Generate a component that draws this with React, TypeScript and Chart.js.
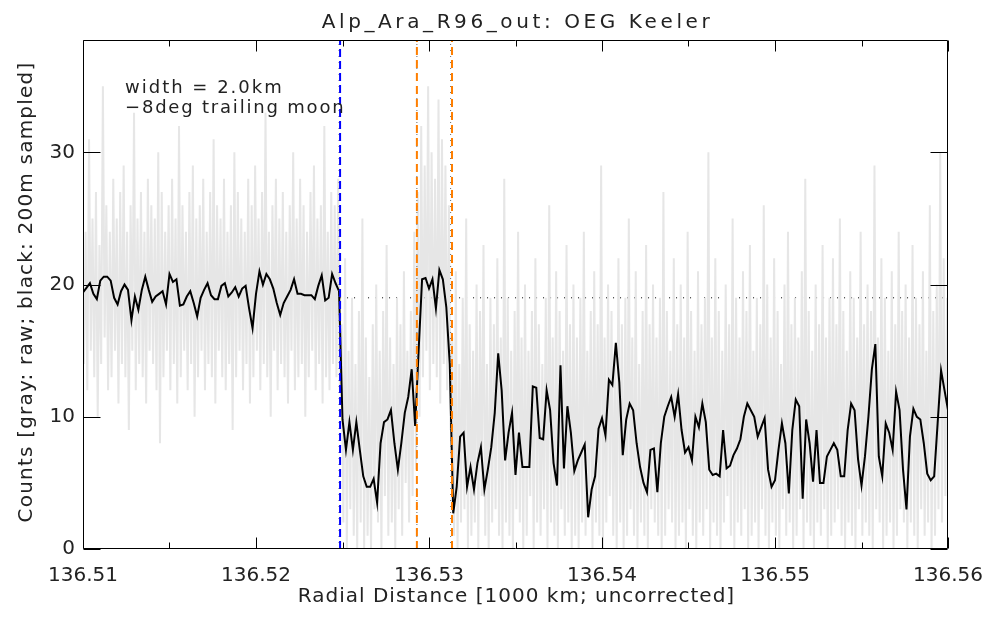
import React, { useEffect, useRef } from "react";
import { Chart, registerables } from "chart.js";

Chart.register(...registerables);

// ---------------- data ----------------
const X_START = 136.51; // first sample [1000 km]
const SAMPLE_STEP = 0.0002; // 200 m sampling
const X_MIN = 136.51;
const X_MAX = 136.56;
const Y_MIN = 0;
const Y_MAX = 38.5;

const xTicks = [136.51, 136.52, 136.53, 136.54, 136.55, 136.56];
const xMinorTicks = [136.515, 136.525, 136.535, 136.545, 136.555];
const yTicks = [0, 10, 20, 30];

const titleText = "Alp_Ara_R96_out: OEG Keeler";
const xLabel = "Radial Distance [1000 km; uncorrected]";
const yLabel = "Counts [gray: raw; black: 200m sampled]";
const noteLines = ["width = 2.0km", "\u22128deg trailing moon"];

// black: 200 m sampled counts
const sampled = [
  19.4, 19.75, 20.1, 19.3, 18.9, 20.3, 20.6, 20.6, 20.3, 19.0,
  18.5, 19.5, 20.0, 19.6, 17.3, 19.1, 18.1, 19.6, 20.6, 19.6,
  18.7, 19.1, 19.3, 19.5, 18.5, 20.8, 20.2, 20.4, 18.4, 18.5,
  19.1, 19.5, 18.6, 17.6, 19.0, 19.6, 20.1, 19.2, 18.9, 18.9,
  19.9, 20.1, 19.1, 19.4, 19.8, 19.1, 19.7, 19.9, 18.2, 16.7,
  19.3, 21.0, 20.0, 20.8, 20.4, 19.7, 18.6, 17.7, 18.6, 19.1,
  19.6, 20.4, 19.3, 19.3, 19.2, 19.2, 19.2, 18.9, 19.9, 20.7,
  18.8, 19.0, 20.8, 20.1, 19.5,
  9.8, 7.5, 9.6, 7.5, 9.6, 7.5, 5.5, 4.7, 4.7, 5.3,
  3.5, 8.0, 9.6, 9.8, 10.5, 8.0, 6.0, 8.0, 10.3, 11.5,
  13.6, 9.3,
  15.0, 20.4, 20.5, 19.7, 20.4, 18.2, 21.1, 20.4, 18.3, 14.0,
  2.7, 4.7, 8.5, 8.8, 4.7, 6.2, 4.5, 6.5, 7.7,
  4.5, 6.0, 7.7, 10.3, 14.8, 12.0, 6.7, 8.8, 10.3, 5.6,
  8.8, 6.2, 6.2, 6.2, 12.3, 12.2, 8.4, 8.3, 12.0, 10.5,
  6.5, 4.8, 13.9, 6.1, 10.8, 8.8, 5.9, 6.7, 7.3, 7.9,
  2.4, 4.5, 5.5, 9.1, 9.9, 8.6, 12.8, 12.4, 15.6, 12.6,
  7.1, 9.8, 11.0,
  10.5, 8.0, 6.2, 5.0, 4.3, 7.5, 7.6, 4.3, 8.0, 10.0,
  10.8, 11.5, 10.0, 11.7, 9.0, 7.3, 7.7, 6.7, 10.0, 9.2,
  11.0, 9.6, 6.0, 5.6, 5.7, 5.5, 9.0, 6.1, 6.3, 7.1,
  7.6, 8.3, 10.0, 11.0, 10.5, 10.0, 8.5, 9.2, 9.9, 6.0,
  4.7, 5.2, 7.5, 9.5, 8.0, 4.2,
  9.0, 11.3, 10.8, 3.8, 9.8, 8.0, 5.1, 9.0, 5.0, 5.0,
  7.0, 7.5, 8.0, 7.5, 5.5, 5.5, 9.0, 11.0, 10.5, 6.8,
  4.8, 7.0, 10.0, 13.6, 15.5, 7.0, 5.5, 9.5, 8.8, 7.5,
  11.9, 10.5, 6.0, 3.0, 8.5, 10.6, 10.0, 9.8, 8.0, 5.7,
  5.2, 5.5, 9.5, 13.5, 12.0, 10.5,
];

// gray: raw counts, high and low reading within each 200 m bin
const rawHigh = [
  26, 24, 31, 25, 27, 23, 35, 26, 24, 28,
  25, 27, 29, 24, 26, 33, 25, 27, 24, 28,
  26, 25, 30, 27, 24, 26, 28, 25, 32, 26,
  24, 27, 29, 25, 26, 28, 24, 27, 31, 26,
  25, 28, 24, 26, 30, 27, 25, 24, 28, 26,
  29, 25, 27, 33, 24, 26, 28, 25, 27, 24,
  26, 30, 25, 28, 26, 24, 27, 29, 25, 26,
  32, 24, 27, 26, 28,
  17, 22, 15, 19, 14, 18, 25, 16, 13, 17, 20, 15, 18, 23, 16, 14, 19, 17, 21, 15, 18, 24,
  27, 32, 29, 35, 30, 28, 34, 31, 29, 26,
  16, 21, 14, 19, 25, 17, 15, 20, 18, 23, 14, 19,
  17, 22, 16, 28, 19, 15, 18, 24, 16, 20, 15, 18,
  22, 17, 14, 19, 26, 16, 21, 18, 15, 23, 17, 20,
  16, 19, 24, 15, 18, 21, 17, 29, 16, 20, 18, 15,
  22, 17, 19, 25, 16, 21, 14, 18, 23, 17, 20, 16,
  19, 27, 18, 15, 22, 17, 20, 16, 24, 18, 15, 21,
  17, 19, 30, 16, 22, 18, 15, 20, 17, 25, 19, 16,
  21, 18, 23, 15, 19, 17, 26, 20, 16, 22, 18, 14,
  20, 24, 17, 19, 16, 21, 28, 18, 15, 20, 17, 23,
  16, 19, 22, 17, 25, 18, 15, 21, 19, 16, 24, 17,
  20, 18, 29, 16, 22, 19, 15, 21, 17, 24, 18, 20,
  16, 23, 19, 17, 21, 15, 26, 18, 20, 30, 22, 19,
];
const rawLow = [
  14, 12, 15, 13, 10, 14, 16, 12, 13, 15,
  11, 14, 13, 9, 15, 12, 14, 13, 11, 15,
  14, 12, 8, 13, 15, 12, 14, 11, 13, 15,
  12, 14, 10, 13, 15, 12, 14, 13, 11, 15,
  13, 12, 14, 9, 13, 15, 12, 14, 11, 13,
  15, 12, 14, 13, 10, 15, 12, 14, 13, 11,
  15, 12, 13, 14, 10, 13, 15, 12, 14, 11,
  13, 12, 14, 13, 12,
  2, 0, 3, 1, 0, 2, 0, 1, 0, 3, 2, 0, 4, 1, 2, 0, 3, 1, 5, 2, 4, 6,
  10, 13, 15, 12, 14, 13, 11, 14, 12, 9,
  1, 0, 2, 3, 0, 1, 2, 0, 4, 1, 0, 2,
  3, 1, 0, 2, 1, 0, 3, 2, 0, 1, 4, 0,
  2, 1, 3, 0, 2, 1, 0, 3, 1, 2, 0, 1,
  0, 2, 1, 3, 0, 2, 1, 0, 2, 4, 1, 0,
  2, 0, 1, 3, 1, 0, 2, 1, 0, 3, 2, 1,
  0, 1, 3, 2, 0, 1, 2, 0, 3, 1, 0, 2,
  1, 3, 0, 2, 1, 0, 2, 4, 1, 0, 2, 1,
  3, 0, 1, 2, 0, 3, 1, 0, 2, 1, 0, 3,
  1, 2, 0, 1, 3, 0, 2, 1, 0, 2, 1, 3,
  0, 1, 2, 3, 1, 0, 2, 1, 0, 3, 1, 2,
  1, 0, 3, 2, 0, 1, 2, 0, 1, 3, 2, 0,
  2, 1, 0, 3, 1, 2, 0, 1, 3, 2, 4, 3,
];

const moonEdge = 136.52486; // blue dashed
const gapEdges = [136.5293, 136.53133]; // orange dashed
const guideLines = [136.5248, 136.5293, 136.53125]; // thin dotted
const baselineLevel = 19; // dotted horizontal level
const baselineStart = 136.52486;

// ---------------- styling ----------------
const FONT_FAMILY = '"DejaVu Sans", sans-serif';
const TEXT_COLOR = "#222";

const vline = (x: number) => [
  { x, y: Y_MIN },
  { x, y: Y_MAX },
];

const idlPlugin = {
  id: "idlFrame",
  afterDatasetsDraw(chart: any) {
    const { ctx, chartArea: a, scales } = chart;
    const xs = scales.x;
    const ys = scales.y;
    const L = Math.round(a.left) + 0.5;
    const R = Math.round(a.right) - 0.5;
    const T = Math.round(a.top) + 0.5;
    const B = Math.round(a.bottom) - 0.5;
    ctx.save();
    ctx.strokeStyle = "#000";
    ctx.lineWidth = 1;
    ctx.setLineDash([]);
    ctx.beginPath();
    ctx.rect(L, T, R - L, B - T);
    for (const v of xTicks) {
      const px = Math.round(xs.getPixelForValue(v)) + 0.5;
      ctx.moveTo(px, B);
      ctx.lineTo(px, B - 11);
      ctx.moveTo(px, T);
      ctx.lineTo(px, T + 11);
    }
    for (const v of xMinorTicks) {
      const px = Math.round(xs.getPixelForValue(v)) + 0.5;
      ctx.moveTo(px, B);
      ctx.lineTo(px, B - 6);
      ctx.moveTo(px, T);
      ctx.lineTo(px, T + 6);
    }
    for (const v of yTicks) {
      const py = Math.round(ys.getPixelForValue(v)) + 0.5;
      ctx.moveTo(L, py);
      ctx.lineTo(L + 17, py);
      ctx.moveTo(R, py);
      ctx.lineTo(R - 17, py);
    }
    ctx.stroke();
    ctx.restore();
  },
  afterDraw(chart: any) {
    const { ctx, chartArea: a } = chart;
    const cx = (a.left + a.right) / 2;
    ctx.save();
    ctx.fillStyle = TEXT_COLOR;
    ctx.textBaseline = "alphabetic";
    // title
    ctx.font = `20px ${FONT_FAMILY}`;
    (ctx as any).letterSpacing = "3.6px";
    ctx.textAlign = "center";
    ctx.fillText(titleText, cx + 2, 28);
    // x label
    (ctx as any).letterSpacing = "1px";
    ctx.fillText(xLabel, cx + 1, 602);
    // y label
    ctx.save();
    ctx.translate(31.5, 292);
    ctx.rotate(-Math.PI / 2);
    (ctx as any).letterSpacing = "1.2px";
    ctx.fillText(yLabel, 0, 0);
    ctx.restore();
    // notes
    ctx.font = `18px ${FONT_FAMILY}`;
    (ctx as any).letterSpacing = "2px";
    ctx.textAlign = "left";
    ctx.fillText(noteLines[0], a.left + 42, 93);
    (ctx as any).letterSpacing = "1.8px";
    ctx.fillText(noteLines[1], a.left + 42, 113);
    ctx.restore();
  },
};

export default function App() {
  const ref = useRef<HTMLCanvasElement>(null);

  useEffect(() => {
    const canvas = ref.current;
    if (!canvas) return;

    const sampledPts = sampled.map((v, i) => ({ x: X_START + i * SAMPLE_STEP, y: v }));
    const rawPts: { x: number; y: number }[] = [];
    rawHigh.forEach((hi, i) => {
      const xc = X_START + i * SAMPLE_STEP;
      rawPts.push({ x: xc - SAMPLE_STEP / 4, y: hi });
      rawPts.push({ x: xc + SAMPLE_STEP / 4, y: rawLow[i] });
    });

    const common = { pointRadius: 0, pointHoverRadius: 0, tension: 0, fill: false };

    const chart = new Chart(canvas, {
      type: "line",
      data: {
        datasets: [
          {
            ...common,
            label: "moon edge",
            data: vline(moonEdge),
            borderColor: "#0000ff",
            borderWidth: 2,
            borderDash: [8, 4],
            order: 0,
          },
          ...gapEdges.map((g, k) => ({
            ...common,
            label: "gap edge " + k,
            data: vline(g),
            borderColor: "#ff7f00",
            borderWidth: 2,
            borderDash: [8, 5],
            order: 0,
          })),
          ...guideLines.map((g, k) => ({
            ...common,
            label: "guide " + k,
            data: vline(g),
            borderColor: "#666",
            borderWidth: 1,
            borderDash: [1, 5],
            order: 1,
          })),
          {
            ...common,
            label: "200m sampled",
            data: sampledPts,
            borderColor: "#000",
            borderWidth: 2,
            order: 2,
          },
          {
            ...common,
            label: "raw",
            data: rawPts,
            borderColor: "#e6e6e6",
            borderWidth: 2,
            order: 3,
          },
          {
            ...common,
            label: "level",
            data: [
              { x: baselineStart, y: baselineLevel },
              { x: X_MAX, y: baselineLevel },
            ],
            borderColor: "#000",
            borderWidth: 1,
            borderDash: [1, 6],
            order: 4,
          },
        ],
      },
      options: {
        animation: false,
        responsive: false,
        devicePixelRatio: 1,
        events: [],
        layout: { padding: { top: 40, right: 39, left: 0, bottom: 0 } },
        plugins: {
          legend: { display: false },
          tooltip: { enabled: false },
          title: { display: false },
        },
        scales: {
          x: {
            type: "linear",
            min: X_MIN,
            max: X_MAX,
            grid: { display: false, drawTicks: false },
            border: { display: false },
            afterBuildTicks: (s: any) => {
              s.ticks = xTicks.map((v) => ({ value: v }));
            },
            afterFit: (s: any) => {
              s.height = 70;
              s.paddingLeft = 0;
              s.paddingRight = 0;
            },
            ticks: {
              autoSkip: false,
              maxRotation: 0,
              padding: 15,
              color: TEXT_COLOR,
              font: { family: FONT_FAMILY, size: 20 },
              callback: (v: any) => Number(v).toFixed(2),
            },
          },
          y: {
            type: "linear",
            min: Y_MIN,
            max: Y_MAX,
            grid: { display: false, drawTicks: false },
            border: { display: false },
            afterBuildTicks: (s: any) => {
              s.ticks = yTicks.map((v) => ({ value: v }));
            },
            afterFit: (s: any) => {
              s.width = 83;
              s.paddingTop = 0;
              s.paddingBottom = 0;
            },
            ticks: {
              padding: 8,
              color: TEXT_COLOR,
              font: { family: FONT_FAMILY, size: 20 },
              callback: (v: any) => String(v),
            },
          },
        },
      },
      plugins: [idlPlugin],
    });

    return () => chart.destroy();
  }, []);

  return (
    <div style={{ position: "absolute", left: 0, top: 0, width: 987, height: 619, background: "#fff" }}>
      <canvas ref={ref} width={987} height={619} style={{ display: "block", width: 987, height: 619 }} />
    </div>
  );
}
